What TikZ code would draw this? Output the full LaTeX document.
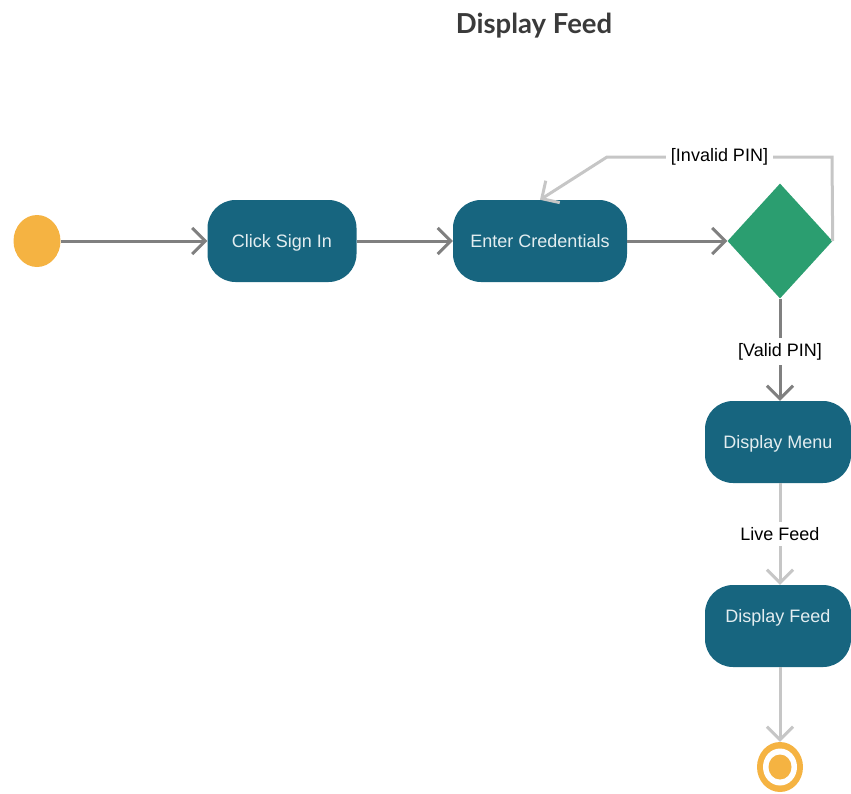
\documentclass[tikz,border=0pt]{standalone}
\usepackage{fontspec}
\setmainfont{Liberation Sans}
\newfontfamily\titlefont{Lato}
\usetikzlibrary{arrows.meta,shapes.geometric}

\definecolor{actblue}{HTML}{17657F}
\definecolor{decgreen}{HTML}{2B9E70}
\definecolor{dotorange}{HTML}{F5B342}
\definecolor{flowdark}{HTML}{808080}
\definecolor{flowlight}{HTML}{C6C6C6}
\definecolor{titlegray}{HTML}{3A3A3A}

\tikzset{
  activity/.style={rectangle, rounded corners=28pt, fill=actblue, text=white!88!actblue,
    minimum height=82pt, inner sep=0pt, text height=13pt, text depth=0pt, font=\fontsize{18}{20}\selectfont},
  decision/.style={diamond, fill=decgreen, minimum width=105pt, minimum height=115pt, inner sep=0pt},
  flowdk/.style={line width=3pt, flowdark, -{Straight Barb[length=13pt,width=26pt]}},
  flowlt/.style={line width=3pt, flowlight, -{Straight Barb[length=13pt,width=26pt]}},
  guard/.style={fill=white, text=black, inner sep=5pt, font=\fontsize{18}{20}\selectfont}
}

\begin{document}
\begin{tikzpicture}[x=1pt,y=-1pt]
        % canvas
        \useasboundingbox (0,0) rectangle (851,793);
        \node[font=\titlefont\bfseries\fontsize{27.5}{30}\selectfont, text=titlegray] (title) at (534,26) {Display Feed};

        % start and end
        \node[ellipse, fill=dotorange, minimum width=47pt, minimum height=52pt, inner sep=0pt] (start) at (37,241) {};
        \node[ellipse, fill=dotorange, minimum width=46pt, minimum height=50pt, inner sep=0pt] (stop) at (780,767) {};
        \fill[white] (stop.center) ellipse (17pt and 18.5pt);
        \fill[dotorange] (stop.center) ellipse (11.5pt and 12.5pt);

        % activities
        \node[activity, minimum width=149pt] (signin) at (282,241) {Click Sign In};
        \node[activity, minimum width=174pt] (creds) at (540,241) {Enter Credentials};
        \node[decision] (check) at (780,241) {};
        \node[activity, minimum width=146pt] (menu) at (778,442) {Display Menu};
        \node[activity, minimum width=146pt, text depth=20pt] (feed) at (778,626) {Display Feed};

        % helper points
        \coordinate (loopa) at (832,157);
        \coordinate (loopb) at (607,157);

        % flows
        \draw[flowdk] (start) -- (signin);
        \draw[flowdk] (signin) -- (creds);
        \draw[flowdk] (creds) -- (check);
        \draw[flowlt] (check.east) -- (loopa) -- node[guard] {[Invalid PIN]} (loopb) -- (creds.north);
        \draw[flowdk] (check.south) -- node[guard, pos=0.52] {[Valid PIN]} (menu.north -| check.south);
        \draw[flowlt] (menu.south -| check.south) -- node[guard] {Live Feed} (feed.north -| check.south);
        \draw[flowlt] (feed.south -| check.south) -- (stop.north);
\end{tikzpicture}
\end{document}
